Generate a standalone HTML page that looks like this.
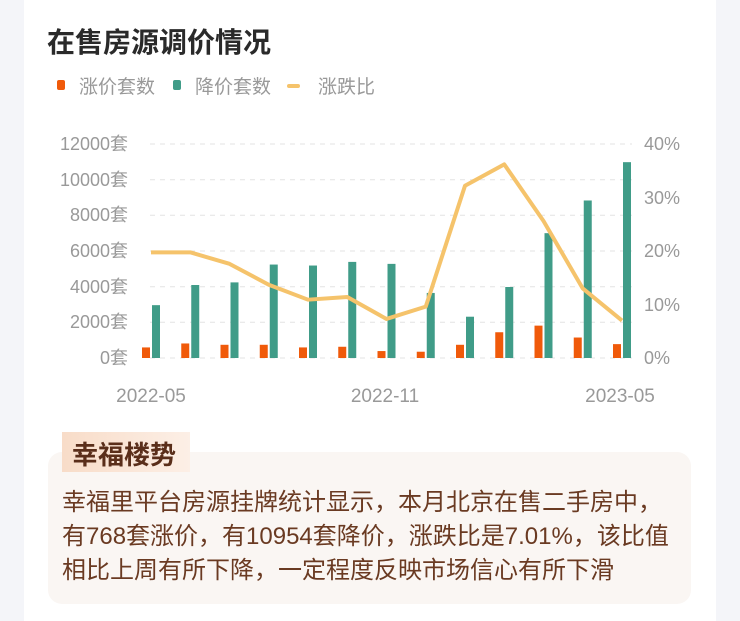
<!DOCTYPE html>
<html><head><meta charset="utf-8"><style>
body{margin:0;width:740px;height:621px;background:#f4f5f9;overflow:hidden;font-family:"Liberation Sans","Noto Sans CJK SC",sans-serif}
.card{position:absolute;left:24px;top:0;width:692px;height:621px;background:#fff}
.t{position:absolute;white-space:nowrap}
</style></head><body>
<div class="card"></div>
<div class="t" style="left:47px;top:21px;font-size:28px;font-weight:bold;color:#2a2a2a">在售房源调价情况</div>
<div class="t" style="left:57px;top:80px;width:8px;height:10px;border-radius:2px;background:#f05a0a"></div>
<div class="t" style="left:79px;top:72px;font-size:19px;color:#999">涨价套数</div>
<div class="t" style="left:173px;top:80px;width:8px;height:10px;border-radius:2px;background:#409c88"></div>
<div class="t" style="left:195px;top:72px;font-size:19px;color:#999">降价套数</div>
<div class="t" style="left:287px;top:84px;width:13px;height:4px;border-radius:2px;background:#f5c36b"></div>
<div class="t" style="left:318px;top:72px;font-size:19px;color:#999">涨跌比</div>
<svg width="740" height="621" style="position:absolute;left:0;top:0" font-family="Liberation Sans, Noto Sans CJK SC, sans-serif">
<g stroke="#e3e3e3" stroke-dasharray="5,5" stroke-width="1">
<line x1="150" x2="632" y1="144" y2="144"/><line x1="150" x2="632" y1="179.7" y2="179.7"/><line x1="150" x2="632" y1="215.3" y2="215.3"/><line x1="150" x2="632" y1="251" y2="251"/><line x1="150" x2="632" y1="286.7" y2="286.7"/><line x1="150" x2="632" y1="322.3" y2="322.3"/><line x1="150" x2="632" y1="358" y2="358"/>
</g>
<g font-size="18" fill="#999" text-anchor="end">
<text x="128" y="150">12000套</text><text x="128" y="186">10000套</text><text x="128" y="221">8000套</text><text x="128" y="257">6000套</text><text x="128" y="293">4000套</text><text x="128" y="328">2000套</text><text x="128" y="364">0套</text>
</g>
<g font-size="18" fill="#999">
<text x="644" y="150">40%</text><text x="644" y="204">30%</text><text x="644" y="257">20%</text><text x="644" y="311">10%</text><text x="644" y="364">0%</text>
</g>
<g font-size="19" fill="#999" text-anchor="middle">
<text x="151" y="402">2022-05</text><text x="385" y="402">2022-11</text><text x="620" y="402">2023-05</text>
</g>
<g id="bars"></g>
<polyline id="ln" fill="none" stroke="#f5c36b" stroke-width="4" stroke-linejoin="round"/>
</svg>
<div class="t" style="left:48px;top:452px;width:643px;height:152px;border-radius:14px;background:#faf6f3"></div>
<div class="t" style="left:62px;top:432px;width:128px;height:40px;background:linear-gradient(90deg,#f8dcc8,#fcefe6)"></div>
<div class="t" style="left:72px;top:435px;font-size:26px;font-weight:bold;color:#5a2e1a">幸福楼势</div>
<div class="t" style="left:62px;top:486px;font-size:24px;line-height:34px;color:#6a3a22">幸福里平台房源挂牌统计显示，本月北京在售二手房中，<br>有768套涨价，有10954套降价，涨跌比是7.01%，该比值<br>相比上周有所下降，一定程度反映市场信心有所下滑</div>
<script>
var te=[2963,4093,4240,5240,5185,5389,5278,3648,2315,3981,7000,8833,10981];
var or=[593,815,741,741,593,630,389,352,741,1444,1815,1148,778];
var pc=[19.75,19.75,17.6,13.7,10.9,11.4,7.3,9.6,32.2,36.2,25.6,13.0,7.0];
var g=document.getElementById('bars'),s='',pts=[];
for(var i=0;i<13;i++){var c=151+i*39.25;
var ho=or[i]*214/12000,ht=te[i]*214/12000;
s+='<rect x="'+(c-9)+'" y="'+(358-ho)+'" width="8" height="'+ho+'" fill="#f05a0a"/>';
s+='<rect x="'+(c+1)+'" y="'+(358-ht)+'" width="8" height="'+ht+'" fill="#409c88"/>';
pts.push(c+','+(358-pc[i]*214/40));}
g.innerHTML=s;document.getElementById('ln').setAttribute('points',pts.join(' '));
</script>
</body></html>
